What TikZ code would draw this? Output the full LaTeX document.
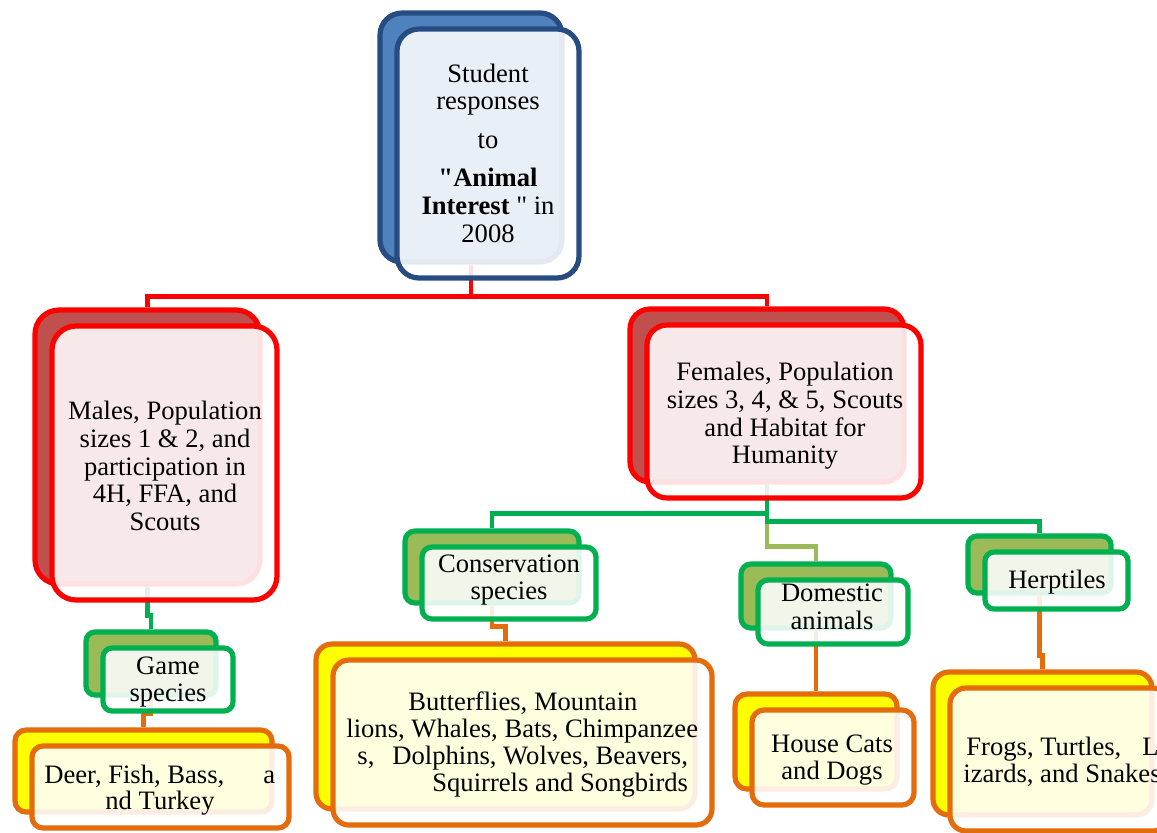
\documentclass[tikz,border=0pt]{standalone}
\usepackage{fontspec}
\setmainfont{Liberation Serif}[Ligatures=TeXOff]
\usetikzlibrary{fit}
\definecolor{bluebd}{HTML}{264C82}
\definecolor{bluefill}{HTML}{4F81BD}
\definecolor{redbd}{HTML}{FF0000}
\definecolor{redfill}{HTML}{C0504D}
\definecolor{grnbd}{HTML}{00B050}
\definecolor{grnfill}{HTML}{9BBB59}
\definecolor{orgbd}{HTML}{E46C0A}
\definecolor{yelfill}{HTML}{FFFF00}
\tikzset{
  boxbase/.style={inner sep=0pt, line width=2.6pt},
  conn/.style={line width=2.2pt},
  lbl/.style={font=\fontsize{13.3}{13.8}\selectfont, align=center, inner sep=0pt},
  lline/.style={font=\fontsize{13.3}{13.8}\selectfont, inner sep=0pt, anchor=base west}
}
\newcommand\backbox[8]{\node[boxbase, fit={(#2,#3) (#4,#5)}, draw=#8, fill=#7, rounded corners=#6] (#1b) {};}
\newcommand\frontbox[7]{\node[boxbase, fit={({#2+17},{#3+16}) ({#4+17},{#5+16})}, draw=#7, fill=white, fill opacity=0.88, draw opacity=1, rounded corners=#6] (#1) {};}
\begin{document}
\begin{tikzpicture}[x=0.5pt, y=-0.5pt]
\fill[white] (0,0) rectangle (1157,832);
\useasboundingbox (0,0) rectangle (1157,832);
\clip (0,0) rectangle (1157,832);

% back boxes
\backbox{root}{380}{13}{562}{262}{11pt}{bluefill}{bluebd}
\backbox{males}{35}{310}{260}{584}{12pt}{redfill}{redbd}
\backbox{fem}{630}{309}{904}{482}{10pt}{redfill}{redbd}
\backbox{cons}{405}{531}{579}{603}{5pt}{grnfill}{grnbd}
\backbox{dom}{741}{564}{891}{628}{5pt}{grnfill}{grnbd}
\backbox{herp}{968}{536}{1111}{593}{4.5pt}{grnfill}{grnbd}
\backbox{game}{86}{632}{216}{695}{4.5pt}{grnfill}{grnbd}
\backbox{deer}{15}{730}{272}{812}{5.5pt}{yelfill}{orgbd}
\backbox{butt}{316}{644}{695}{809}{8pt}{yelfill}{orgbd}
\backbox{house}{735}{694}{897}{789}{6pt}{yelfill}{orgbd}
\backbox{frogs}{933}{672}{1152}{815}{8pt}{yelfill}{orgbd}

% connectors
\draw[conn, redbd] (rootb.south) -- ++(0,32) -| (malesb.north);
\draw[conn, redbd] (rootb.south) -- ++(0,32) -| (femb.north);
\draw[conn, grnfill] (femb.south) -- ++(0,62) -| (domb.north);
\draw[conn, grnbd] (femb.south) -- ++(0,29) -| (consb.north);
\draw[conn, grnbd] (femb.south) -- ++(0,37) -| (herpb.north);
\draw[conn, grnbd] (malesb.south) -- ++(0,29) -| (gameb.north);
\draw[conn, orgbd] (gameb.south) -- ++(0,16) -| (deerb.north);
\draw[conn, orgbd] (consb.south) -- ++(0,21) -| (buttb.north);
\draw[conn, orgbd] (domb.south) -- (houseb.north);
\draw[conn, orgbd] (herpb.south) -- ++(0,60) -| (frogsb.north);

% front boxes
\frontbox{root}{380}{13}{562}{262}{11pt}{bluebd}
\frontbox{males}{35}{310}{260}{584}{12pt}{redbd}
\frontbox{fem}{630}{309}{904}{482}{10pt}{redbd}
\frontbox{cons}{405}{531}{579}{603}{5pt}{grnbd}
\frontbox{dom}{741}{564}{891}{628}{5pt}{grnbd}
\frontbox{herp}{968}{536}{1111}{593}{4.5pt}{grnbd}
\frontbox{game}{86}{632}{216}{695}{4.5pt}{grnbd}
\frontbox{deer}{15}{730}{272}{812}{5.5pt}{orgbd}
\frontbox{butt}{316}{644}{695}{809}{8pt}{orgbd}
\frontbox{house}{735}{694}{897}{789}{6pt}{orgbd}
\frontbox{frogs}{933}{672}{1152}{815}{8pt}{orgbd}

% labels
\node[lbl] (rootT) at (488,153) {Student\\responses\\[5.5pt]to\\[5.5pt]\textbf{"Animal}\\\textbf{Interest} " in\\2008};
\node[lbl] (malesT) at (165,466) {Males, Population\\sizes 1 \& 2, and\\participation in\\4H, FFA, and\\Scouts};
\node[lbl] (femT) at (785,416) {Females, Population\\sizes 3, 4, \& 5, Scouts\\and Habitat for\\Humanity};
\node[lbl] (consT) at (509,580) {Conservation\\species};
\node[lbl] (domT) at (832,607) {Domestic\\animals};
\node[lbl] (herpT) at (1057,582) {Herptiles};
\node[lbl] (gameT) at (168,682) {Game\\species};
\node[lbl] (houseT) at (832,760) {House Cats\\and Dogs};

\node[lline] (deerT1) at (44,783) {Deer, Fish, Bass,};
\node[lline] (deerT2) at (263,783) {a};
\node[lline, anchor=base] (deerT3) at (160,809) {nd Turkey};

\node[lline] (buttT1) at (408,710) {Butterflies, Mountain};
\node[lline] (buttT2) at (346,737) {lions, Whales, Bats, Chimpanzee};
\node[lline] (buttT3) at (357,764) {s,\hspace{9pt}Dolphins, Wolves, Beavers,};
\node[lline] (buttT4) at (432,791) {Squirrels and Songbirds};

\node[lline] (frogT1) at (966,755) {Frogs, Turtles,};
\node[lline] (frogT2) at (1142,755) {L};
\node[lline] (frogT3) at (963,782) {izards, and Snakes};
\end{tikzpicture}
\end{document}
